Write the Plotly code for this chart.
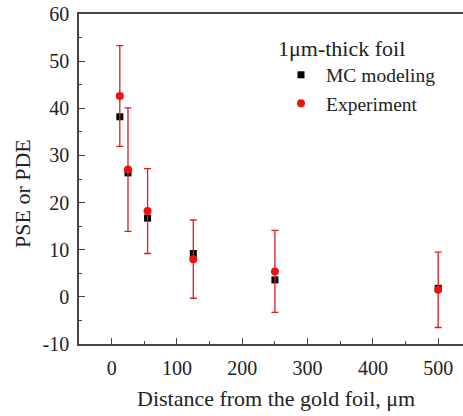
import plotly.graph_objects as go

distance = [12.5, 25, 55, 125, 250, 500]
mc_model = [38.2, 26.3, 16.7, 9.2, 3.6, 1.8]
experiment = [42.6, 27.0, 18.2, 8.0, 5.4, 1.5]
exp_err = [10.7, 13.1, 9.0, 8.3, 8.7, 8.0]

x_ticks = [0, 100, 200, 300, 400, 500]
y_ticks = [-10, 0, 10, 20, 30, 40, 50, 60]
y_ticktext = ["-10", "0", "10", "20", "30", "40", "50", "60"]

FONT = "Liberation Serif"
W, H = 463, 416
ML, MT, MB, MR = 79, 14, 72, 0

fig = go.Figure()
fig.add_trace(go.Scatter(
    x=distance, y=mc_model, mode="markers", name="MC modeling",
    marker=dict(symbol="square", size=7, color="#000000"),
))
fig.add_trace(go.Scatter(
    x=distance, y=experiment, mode="markers", name="Experiment",
    marker=dict(symbol="circle", size=8, color="#ee1111"),
    error_y=dict(type="data", array=exp_err, visible=True, color="#d42020",
                 thickness=1.3, width=3.5),
))

axis_common = dict(
    showline=True, linecolor="#444444", linewidth=1.5,
    ticks="inside", ticklen=6, tickwidth=1.2, tickcolor="#444444",
    showgrid=False, zeroline=False,
    tickfont=dict(family=FONT, size=20, color="#222222"),
)

fig.update_xaxes(
    range=[-50, 538], tickvals=x_ticks,
    minor=dict(tickvals=[50, 150, 250, 350, 450], ticks="inside", ticklen=3,
               tickcolor="#444444"),
    mirror=True, ticklabelstandoff=5, **axis_common,
)
fig.update_yaxes(
    range=[-10, 60], tickvals=y_ticks, ticktext=y_ticktext,
    minor=dict(tickvals=[-5, 5, 15, 25, 35, 45, 55], ticks="inside", ticklen=3,
               tickcolor="#444444"),
    ticklabelstandoff=4, **axis_common,
)

fig.add_annotation(
    text="Distance from the gold foil, μm", xref="paper", yref="paper",
    x=(276 - ML) / (W - ML - MR), y=-(398 - (H - MB)) / (H - MT - MB),
    showarrow=False, xanchor="center", yanchor="middle",
    font=dict(family=FONT, size=22, color="#222222"),
)
fig.add_annotation(
    text="PSE or PDE", xref="paper", yref="paper",
    x=-(ML - 22) / (W - ML - MR), y=(H - MB - 194) / (H - MT - MB),
    showarrow=False, xanchor="center", yanchor="middle", textangle=-90,
    font=dict(family=FONT, size=22, color="#222222"),
)

fig.update_layout(
    width=W, height=H,
    margin=dict(l=ML, r=MR, t=MT, b=MB),
    paper_bgcolor="white", plot_bgcolor="white",
    legend=dict(
        title=dict(text="1μm-thick foil", font=dict(family=FONT, size=22, color="#222222")),
        font=dict(family=FONT, size=19.5, color="#222222"),
        x=(276 - ML) / (W - ML - MR), y=(H - MB - 27) / (H - MT - MB),
        xanchor="left", yanchor="top", bgcolor="rgba(0,0,0,0)",
        itemwidth=40, tracegroupgap=0,
    ),
    showlegend=True,
)

fig.write_html("out.html")
